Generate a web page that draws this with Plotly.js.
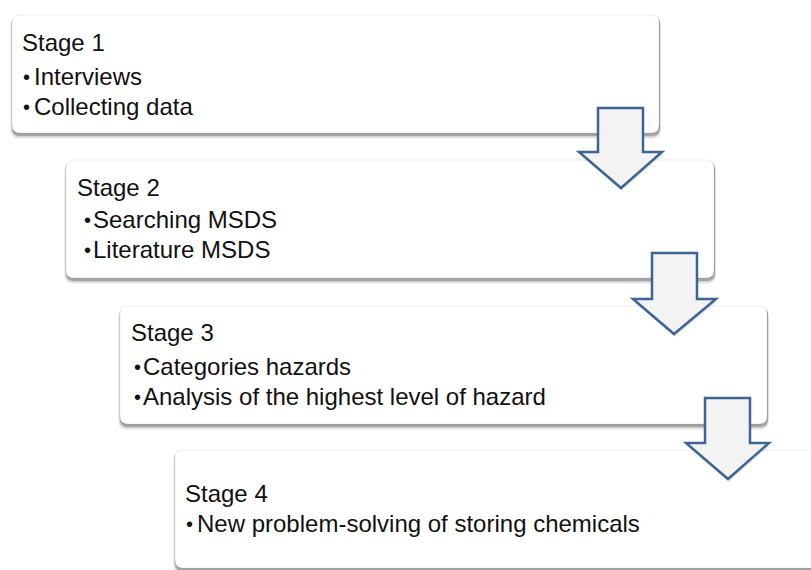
<!DOCTYPE html>
<html>
<head>
<meta charset="utf-8">
<script src="https://cdn.plot.ly/plotly-3.0.1.min.js"></script>
<style>html,body{margin:0;padding:0;background:#fff;}#chart{width:811px;height:570px;}</style>
</head>
<body>
<div id="chart"></div>
<script>
// ---- content ----
var stageTitles = ["Stage 1", "Stage 2", "Stage 3", "Stage 4"];
var stageBullets = [
  ["Interviews", "Collecting data"],
  ["Searching MSDS", "Literature MSDS"],
  ["Categories hazards", "Analysis of the highest level of hazard"],
  ["New problem-solving of storing chemicals"]
];

// ---- layout geometry (pixel coordinates on a 811x570 canvas) ----
var boxGeom = [
  {x0: 12, y0: 15, x1: 659, y1: 133, tx: 20, dx: 19.5, bx: 32, ty: 42, by: [76, 106]},
  {x0: 66, y0: 160, x1: 714, y1: 278, tx: 75, dx: 80.5, bx: 91, ty: 187, by: [219, 249]},
  {x0: 120, y0: 306, x1: 767, y1: 424, tx: 129, dx: 130.5, bx: 141, ty: 332, by: [366, 396]},
  {x0: 175, y0: 450, x1: 840, y1: 568, tx: 183, dx: 182.5, bx: 195, ty: 493, by: [523]}
];
var arrowGeom = [
  {sx0: 598, sx1: 643, top: 108, hy: 152, hx0: 579, hx1: 662, tipx: 621, tipy: 188},
  {sx0: 652, sx1: 697, top: 253, hy: 299, hx0: 633, hx1: 716, tipx: 674, tipy: 334},
  {sx0: 705, sx1: 750, top: 398, hy: 443, hx0: 686, hx1: 769, tipx: 728, tipy: 479}
];

function rrect(x0, y0, x1, y1, r) {
  return "M" + (x0 + r) + "," + y0 + " L" + (x1 - r) + "," + y0 +
    " Q" + x1 + "," + y0 + " " + x1 + "," + (y0 + r) +
    " L" + x1 + "," + (y1 - r) +
    " Q" + x1 + "," + y1 + " " + (x1 - r) + "," + y1 +
    " L" + (x0 + r) + "," + y1 +
    " Q" + x0 + "," + y1 + " " + x0 + "," + (y1 - r) +
    " L" + x0 + "," + (y0 + r) +
    " Q" + x0 + "," + y0 + " " + (x0 + r) + "," + y0 + " Z";
}
function arrowPath(a, dx, dy) {
  dx = dx || 0; dy = dy || 0;
  var p = [[a.sx0, a.top], [a.sx1, a.top], [a.sx1, a.hy], [a.hx1, a.hy], [a.tipx, a.tipy], [a.hx0, a.hy], [a.sx0, a.hy]];
  return "M" + p.map(function (q) { return (q[0] + dx) + "," + (q[1] + dy); }).join(" L") + " Z";
}

var shapes = [];
var annotations = [];
var font = {family: "Liberation Sans, Arial, sans-serif", size: 24, color: "#111111"};
var bulletFont = {family: "Liberation Sans, Arial, sans-serif", size: 20, color: "#111111"};

boxGeom.forEach(function (b, i) {
  // soft shadow layers
  shapes.push({type: "path", xref: "x", yref: "y", path: rrect(b.x0 - 2, b.y0 + 2, b.x1 + 2, b.y1 + 6, 9),
    fillcolor: "rgba(0,0,0,0.06)", line: {width: 0}, layer: "above"});
  shapes.push({type: "path", xref: "x", yref: "y", path: rrect(b.x0 - 1, b.y0 + 1, b.x1 + 1.5, b.y1 + 4.5, 9),
    fillcolor: "rgba(0,0,0,0.12)", line: {width: 0}, layer: "above"});
  shapes.push({type: "path", xref: "x", yref: "y", path: rrect(b.x0, b.y0 + 1, b.x1 + 1, b.y1 + 3, 8),
    fillcolor: "rgba(0,0,0,0.22)", line: {width: 0}, layer: "above"});
  // box
  shapes.push({type: "path", xref: "x", yref: "y", path: rrect(b.x0, b.y0, b.x1, b.y1, 8),
    fillcolor: "#ffffff", line: {color: "rgba(0,0,0,0.07)", width: 1}, layer: "above"});

  annotations.push({xref: "x", yref: "y", x: b.tx, y: b.ty, xanchor: "left", yanchor: "middle",
    text: stageTitles[i], showarrow: false, font: font});
  stageBullets[i].forEach(function (t, j) {
    annotations.push({xref: "x", yref: "y", x: b.dx + 1, y: b.by[j] + 1, xanchor: "left", yanchor: "middle",
      text: "\u2022", showarrow: false, font: bulletFont});
    annotations.push({xref: "x", yref: "y", x: b.bx, y: b.by[j], xanchor: "left", yanchor: "middle",
      text: t, showarrow: false, font: font});
  });
});

arrowGeom.forEach(function (a) {
  shapes.push({type: "path", xref: "x", yref: "y", path: arrowPath(a, 1, 3),
    fillcolor: "rgba(0,0,0,0.08)", line: {width: 0}, layer: "above"});
  shapes.push({type: "path", xref: "x", yref: "y", path: arrowPath(a),
    fillcolor: "#f3f3f3", line: {color: "#3e6494", width: 2.5}, layer: "above"});
});

var data = [{x: [0], y: [0], type: "scatter", mode: "markers", marker: {opacity: 0}, hoverinfo: "skip", showlegend: false}];

var layout = {
  width: 811, height: 570,
  margin: {l: 0, r: 0, t: 0, b: 0, pad: 0},
  paper_bgcolor: "#ffffff", plot_bgcolor: "#ffffff",
  xaxis: {range: [0, 811], visible: false, fixedrange: true},
  yaxis: {range: [570, 0], visible: false, fixedrange: true},
  shapes: shapes,
  annotations: annotations,
  showlegend: false
};

Plotly.newPlot("chart", data, layout, {staticPlot: true, displayModeBar: false});
</script>
</body>
</html>
